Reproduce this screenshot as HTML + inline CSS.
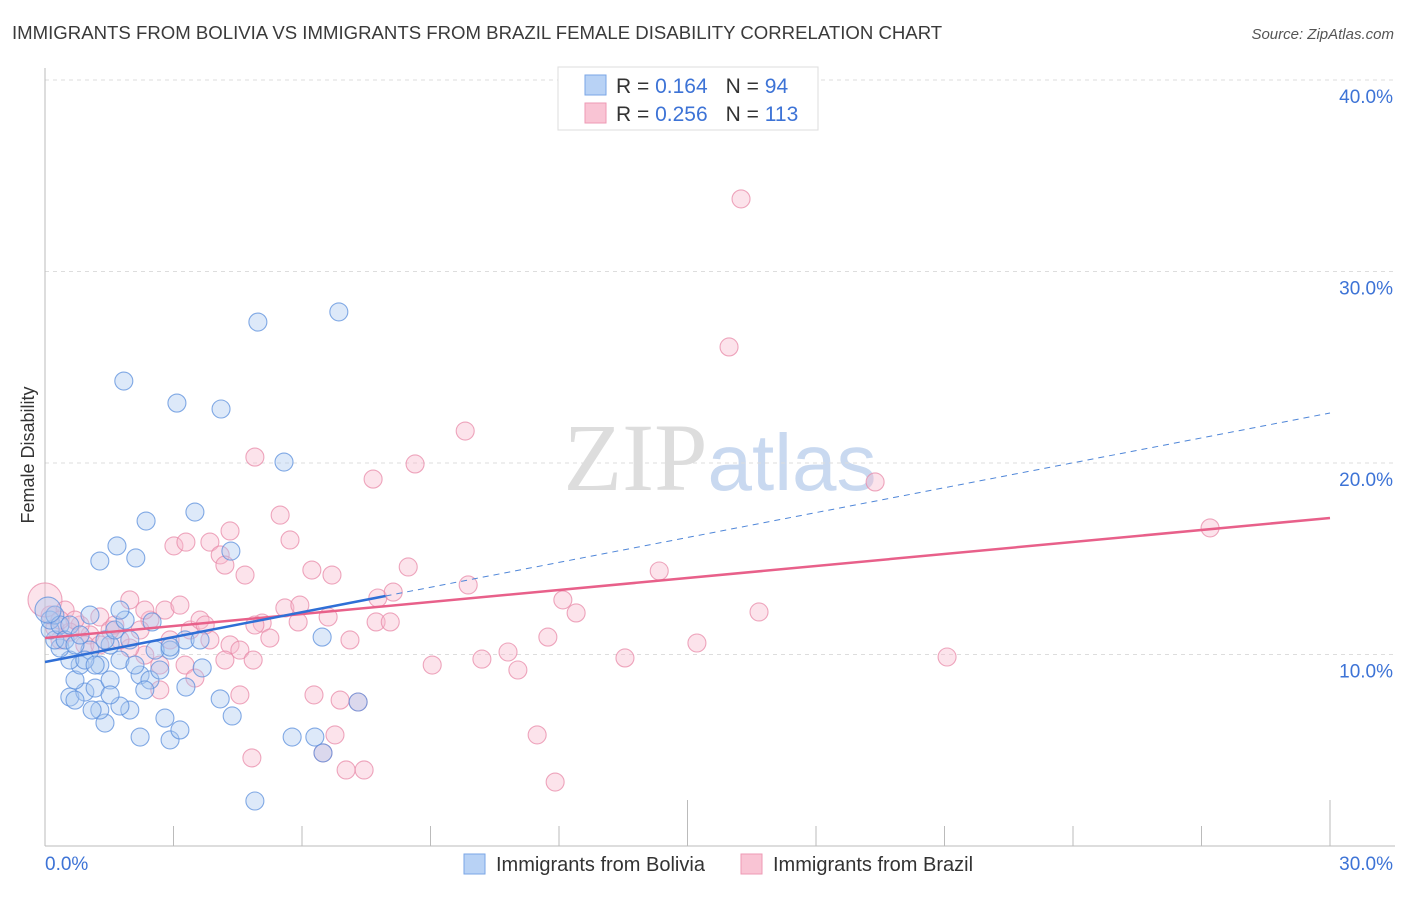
<!DOCTYPE html>
<html><head><meta charset="utf-8"><style>
body{margin:0;background:#fff;font-family:"Liberation Sans",sans-serif}
</style></head><body>
<svg id="chart" width="1406" height="892" xmlns="http://www.w3.org/2000/svg" font-family="Liberation Sans, sans-serif">
<text x="12" y="39" font-size="18.6" fill="#3a3a3a">IMMIGRANTS FROM BOLIVIA VS IMMIGRANTS FROM BRAZIL FEMALE DISABILITY CORRELATION CHART</text>
<text x="1394" y="39" font-size="15" fill="#555" text-anchor="end" font-style="italic">Source: ZipAtlas.com</text>
<text x="720" y="490" font-size="96" text-anchor="middle" fill="#ddd" font-family="Liberation Serif, serif">ZIP<tspan fill="#c9d9f0" font-family="Liberation Sans, sans-serif" font-size="80">atlas</tspan></text>
<text transform="translate(34,455) rotate(-90)" font-size="18" fill="#333" text-anchor="middle">Female Disability</text>
<g id="grid"></g><g id="axes"></g><g id="pts"></g><g id="lines"></g>
<g>
<rect x="558" y="67" width="260" height="63" fill="#fff" stroke="#ddd"/>
<rect x="585" y="75" width="21" height="20" fill="#b8d2f5" stroke="#7aa6e6"/>
<rect x="585" y="103" width="21" height="20" fill="#f9c4d4" stroke="#ee9ab4"/>
<text x="616" y="93" font-size="21" fill="#333">R = <tspan fill="#3d73d6">0.164</tspan><tspan dx="18">N = </tspan><tspan fill="#3d73d6">94</tspan></text>
<text x="616" y="121" font-size="21" fill="#333">R = <tspan fill="#3d73d6">0.256</tspan><tspan dx="18">N = </tspan><tspan fill="#3d73d6">113</tspan></text>
</g>
<g>
<rect x="464" y="854" width="21" height="20" fill="#b8d2f5" stroke="#7aa6e6"/>
<text x="496" y="871" font-size="20" fill="#333">Immigrants from Bolivia</text>
<rect x="741" y="854" width="21" height="20" fill="#f9c4d4" stroke="#ee9ab4"/>
<text x="773" y="871" font-size="20" fill="#333">Immigrants from Brazil</text>
</g>
</svg>
<script>
const boliviaX=[4.97,6.86,1.84,3.08,4.11,5.58,3.50,2.36,1.68,1.28,2.12,4.34,6.47,4.90,5.77,6.30,6.49,7.31,2.92,2.22,3.15,4.37,4.09,3.67,3.29,2.80,1.98,1.75,1.40,1.28,1.10,0.58,0.93,1.17,1.52,0.70,0.82,1.28,1.75,2.22,2.45,2.68,2.92,3.27,2.57,1.98,1.52,1.05,0.58,0.35,0.23,0.12,0.12,0.23,0.35,0.47,0.70,0.93,1.17,1.40,1.63,1.87,2.50,1.75,1.05,0.58,0.82,2.10,2.33,1.52,0.70,3.62,2.92,0.07];
const boliviaY=[27.36,27.89,24.28,23.13,22.82,20.05,17.44,16.97,15.67,14.88,15.04,15.40,10.91,2.35,5.69,5.69,4.86,7.52,5.54,5.69,6.06,6.79,7.68,9.30,8.30,6.68,7.10,7.31,6.42,7.10,7.10,7.78,8.04,8.25,8.67,8.67,9.45,9.45,9.71,8.93,8.67,9.19,10.23,10.76,10.23,10.76,10.50,10.23,9.71,10.34,10.76,11.28,11.80,12.06,11.54,10.76,10.50,9.71,9.45,10.76,11.28,11.80,11.70,12.32,12.06,11.54,11.02,9.45,8.15,7.89,7.62,10.76,10.39,12.32];
const brazilX=[16.25,15.97,9.81,8.64,7.66,19.38,4.90,27.20,5.49,4.32,5.72,3.01,3.29,3.85,4.09,4.20,4.67,6.70,6.23,8.48,9.88,14.34,12.09,12.40,16.67,7.77,8.13,5.60,5.95,6.61,5.91,7.73,8.06,5.07,11.74,7.12,15.22,10.81,10.20,9.04,13.54,21.06,11.04,4.32,5.25,4.55,4.86,4.20,3.85,3.39,3.27,3.50,2.68,2.33,1.98,1.75,2.45,1.98,1.28,1.52,1.05,0.82,0.58,0.35,0.23,0.12,0.0,0.47,0.70,0.35,0.93,1.28,2.33,2.80,3.15,3.62,4.55,6.28,6.89,6.77,4.83,7.03,7.45,11.49,11.91,2.92,2.22,1.63,4.90,3.74,2.68,7.31,6.49];
const brazilY=[33.79,26.06,21.67,19.95,19.16,19.01,20.31,16.61,17.28,16.45,15.98,15.67,15.87,15.87,15.20,14.67,14.15,14.15,14.41,14.57,13.63,14.36,12.85,12.17,12.22,12.95,13.26,12.43,12.58,11.96,11.70,11.70,11.70,11.64,10.91,10.76,10.60,10.13,9.76,9.45,9.82,9.87,9.19,10.50,10.86,10.23,9.71,9.71,10.76,11.28,9.45,8.77,9.45,9.97,10.34,10.76,11.80,12.85,11.96,11.28,11.02,11.54,11.17,10.76,11.38,12.06,12.85,12.32,11.80,11.80,10.50,10.50,12.32,12.32,12.58,11.80,7.89,7.89,7.62,5.80,4.60,3.97,3.97,5.80,3.34,10.76,11.28,11.54,11.54,11.54,8.15,7.52,4.86];
const yTicks=[10,20,30,40];
const yTickLabels=["10.0%","20.0%","30.0%","40.0%"];
const xTickLabels=["0.0%","30.0%"];
const boliviaTrend=[9.61,22.61];
const brazilTrend=[10.86,17.13];
const NS="http://www.w3.org/2000/svg";
const sx=v=>45+v*(1285/30);
const sy=v=>846-v*19.15;
function mk(tag,attrs,parent){const e=document.createElementNS(NS,tag);for(const k in attrs)e.setAttribute(k,attrs[k]);document.getElementById(parent).appendChild(e);return e;}
yTicks.forEach((t,i)=>{
 const g=mk('line',{x1:45,x2:1395,y1:sy(t),y2:sy(t),stroke:'#ddd','stroke-dasharray':'4,4'},'grid');
 
 
 const l=mk('text',{x:1393,y:sy(t)+23,'font-size':19,fill:'#3d73d6','text-anchor':'end'},'axes');
 l.textContent=yTickLabels[i];
 
 
});
const ax=mk('line',{x1:45,x2:1395,y1:846,y2:846,stroke:'#bbb'},'axes');


const ay=mk('line',{x1:45,x2:45,y1:68,y2:846,stroke:'#bbb'},'axes');


for(let i=1;i<=10;i++){
 const v=i*3;
 const tk=mk('line',{x1:sx(v),x2:sx(v),y1:(i%5==0)?800:826,y2:846,stroke:'#bbb'},'axes');
 
 
}
[[0,'start',45],[30,'end',1393]].forEach((d,i)=>{
 const t=mk('text',{x:d[2],y:870,'font-size':19,fill:'#3d73d6','text-anchor':d[1]},'axes');
 t.textContent=xTickLabels[i];
 
 
});
function dots(X,Y,fill,stroke,name,bigIdx,bigR){
 X.forEach((x,i)=>{
  const c=mk('circle',{cx:sx(x),cy:sy(Y[i]),r:i===bigIdx?bigR:9,fill:fill,'fill-opacity':0.4,stroke:stroke,'stroke-opacity':0.75,'stroke-width':1.1},'pts');
  
  
 });
}
dots(brazilX,brazilY,'#f7b8cc','#e88aa8','brazil-point',66,17);
dots(boliviaX,boliviaY,'#a9c8f0','#5b8fdc','bolivia-point',73,13);
const bv=x=>boliviaTrend[0]+(boliviaTrend[1]-boliviaTrend[0])*x/30;
const br=x=>brazilTrend[0]+(brazilTrend[1]-brazilTrend[0])*x/30;
const l1=mk('line',{x1:sx(0),y1:sy(br(0)),x2:sx(30),y2:sy(br(30)),stroke:'#e8608a','stroke-width':2.5},'lines');


const l2=mk('line',{x1:sx(0),y1:sy(bv(0)),x2:sx(7.95),y2:sy(bv(7.95)),stroke:'#2f6fd6','stroke-width':2.5},'lines');


const l3=mk('line',{x1:sx(7.95),y1:sy(bv(7.95)),x2:sx(30),y2:sy(bv(30)),stroke:'#4f86d8','stroke-width':1,'stroke-dasharray':'6,5'},'lines');


</script>
</body></html>
